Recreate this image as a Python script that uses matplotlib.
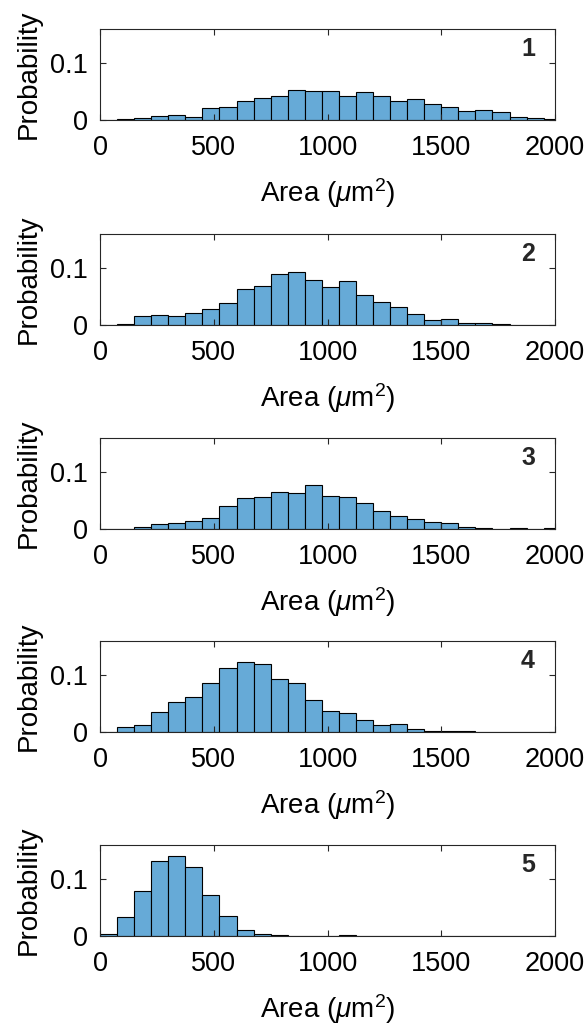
import numpy as np
import matplotlib
matplotlib.use("Agg")
import matplotlib.pyplot as plt

plt.rcParams['font.family'] = ['Liberation Sans', 'DejaVu Sans']
plt.rcParams['mathtext.fontset'] = 'custom'
plt.rcParams['mathtext.rm'] = 'Liberation Sans'
plt.rcParams['mathtext.it'] = 'Liberation Sans:italic'

# histogram bins (um^2), width 75
bin_edges = np.arange(0, 2026, 75)

prob_1 = [0.0, 0.0024, 0.0035, 0.007, 0.009, 0.006, 0.0206, 0.022, 0.033, 0.038,
          0.042, 0.053, 0.051, 0.051, 0.042, 0.050, 0.042, 0.0335, 0.0365, 0.028,
          0.022, 0.015, 0.017, 0.0147, 0.006, 0.004, 0.002]
prob_2 = [0.0, 0.001, 0.0165, 0.018, 0.016, 0.0206, 0.028, 0.039, 0.0635, 0.068,
          0.089, 0.093, 0.079, 0.066, 0.078, 0.053, 0.041, 0.031, 0.019, 0.009,
          0.0106, 0.003, 0.004, 0.0024, 0.0, 0.0006, 0.0]
prob_3 = [0.0, 0.0004, 0.004, 0.008, 0.011, 0.0146, 0.020, 0.040, 0.054, 0.0555,
          0.065, 0.0635, 0.0766, 0.058, 0.056, 0.046, 0.0316, 0.0228, 0.018, 0.013,
          0.0105, 0.004, 0.0018, 0.0003, 0.0018, 0.0003, 0.001]
prob_4 = [0.0, 0.0087, 0.0116, 0.0347, 0.0526, 0.061, 0.0867, 0.1127, 0.1237, 0.120,
          0.0925, 0.086, 0.057, 0.0376, 0.033, 0.0214, 0.012, 0.0133, 0.0058, 0.0023,
          0.0017, 0.0017, 0.0006, 0.0006, 0.0, 0.0, 0.0]
prob_5 = [0.0035, 0.034, 0.080, 0.131, 0.140, 0.121, 0.0713, 0.035, 0.011, 0.003,
          0.001, 0.0005, 0.0003, 0.0003, 0.001, 0.0003, 0.0003, 0.0003, 0.0002, 0.0002,
          0.0, 0.0, 0.0, 0.0, 0.0, 0.0, 0.0]

panels = [prob_1, prob_2, prob_3, prob_4, prob_5]
panel_labels = ['1', '2', '3', '4', '5']
x_ticks = [0, 500, 1000, 1500, 2000]
y_ticks = [0, 0.1]

W, H = 587, 1030
fig = plt.figure(figsize=(W / 100, H / 100), dpi=100)

face = '#66aad7'
axis_col = '#262626'
left, right = 100, 555
tops = [29, 234, 438, 641, 845]
ax_h = 91

for top, probs, lab in zip(tops, panels, panel_labels):
    ax = fig.add_axes([left / W, 1 - (top + ax_h) / H, (right - left) / W, ax_h / H])
    ax.bar(bin_edges[:-1], probs, width=75, align='edge', color=face,
           edgecolor='black', linewidth=0.8)
    ax.set_xlim(0, 2000)
    ax.set_ylim(0, 0.16)
    ax.set_xticks(x_ticks)
    ax.set_yticks(y_ticks)
    ax.set_yticklabels(['0', '0.1'])
    ax.tick_params(direction='in', top=True, right=True, length=4, width=0.8,
                   colors=axis_col, labelsize=19.5, labelcolor='black')
    ax.tick_params(axis='x', pad=11)
    ax.tick_params(axis='y', pad=9)
    for sp in ax.spines.values():
        sp.set_color(axis_col)
        sp.set_linewidth(0.8)
    ax.set_ylabel('Probability', fontsize=20, labelpad=6)
    ax.set_xlabel(r'Area ($\mu$m$^{\mathregular{2}}$)', fontsize=20, labelpad=11)
    ax.text(0.956, 0.78, lab, transform=ax.transAxes, ha='right', va='center',
            fontsize=18, fontweight='bold', color=axis_col)

fig.savefig('out.png', dpi=100)
